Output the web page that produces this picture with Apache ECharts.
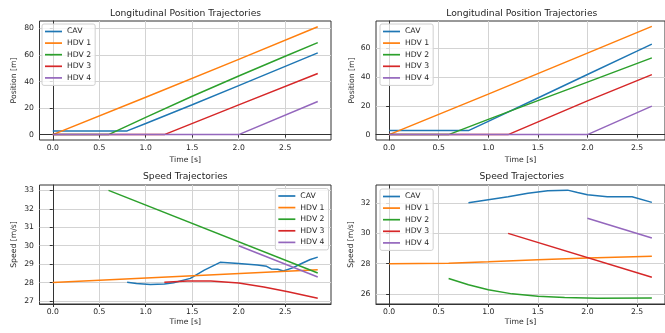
<!DOCTYPE html>
<html>
<head>
<meta charset="utf-8">
<script src="https://cdn.jsdelivr.net/npm/echarts@6/dist/echarts.min.js"></script>
<style>
  html, body { margin: 0; padding: 0; background: #fff; }
  #chart { width: 665px; height: 333px; }
</style>
</head>
<body>
<div id="chart"></div>
<script>
// 车辆名称和颜色
const names = ['CAV', 'HDV 1', 'HDV 2', 'HDV 3', 'HDV 4']
const colors = ['#1f77b4', '#ff7f0e', '#2ca02c', '#d62728', '#9467bd']

// 刻度
const timeTicks = [0, 0.5, 1, 1.5, 2, 2.5]
const posTicksLeft = [0, 20, 40, 60, 80]
const posTicksRight = [0, 20, 40, 60]
const speedTicksLeft = [27, 28, 29, 30, 31, 32, 33]
const speedTicksRight = [26, 28, 30, 32]

// 左上: 位置 [t, m]
const posLeftCAV = [[0, 2.8], [0.8, 2.8], [1.0, 8.4], [1.5, 22.5], [2.0, 36.9], [2.5, 51.4], [2.85, 61.6]]
const posLeftHDV1 = [[0, 0], [1.0, 28.2], [2.0, 56.7], [2.85, 81.3]]
const posLeftHDV2 = [[0, 0], [0.6, 0], [1.0, 13.0], [1.5, 28.9], [2.0, 44.2], [2.5, 59.0], [2.85, 69.3]]
const posLeftHDV3 = [[0, 0], [1.2, 0], [2.0, 22.4], [2.85, 46.0]]
const posLeftHDV4 = [[0, 0], [2.0, 0], [2.85, 25.0]]

// 右上: 位置 [t, m]
const posRightCAV = [[0, 2.8], [0.8, 2.8], [1.0, 9.2], [1.5, 25.4], [2.0, 41.8], [2.5, 58.0], [2.65, 62.9]]
const posRightHDV1 = [[0, 0], [1.0, 28.1], [2.0, 56.6], [2.65, 75.2]]
const posRightHDV2 = [[0, 0], [0.6, 0], [1.0, 10.6], [1.5, 23.6], [2.0, 36.5], [2.65, 53.3]]
const posRightHDV3 = [[0, 0], [1.2, 0], [2.0, 23.4], [2.65, 41.7]]
const posRightHDV4 = [[0, 0], [2.0, 0], [2.65, 19.8]]

// 左下: 速度 [t, m/s]
const spdLeftCAV = [[0.8, 28.02], [0.9, 27.95], [1.05, 27.9], [1.2, 27.93], [1.3, 27.99], [1.48, 28.23],
  [1.63, 28.68], [1.8, 29.1], [2.0, 29.03], [2.2, 28.95], [2.3, 28.88], [2.35, 28.74], [2.42, 28.72],
  [2.48, 28.63], [2.58, 28.8], [2.67, 29.02], [2.77, 29.25], [2.85, 29.38]]
const spdLeftHDV1 = [[0, 28.0], [2.85, 28.7]]
const spdLeftHDV2 = [[0.6, 33.0], [2.85, 28.52]]
const spdLeftHDV3 = [[1.2, 28.02], [1.45, 28.09], [1.7, 28.09], [2.0, 27.98], [2.27, 27.76], [2.53, 27.5], [2.85, 27.15]]
const spdLeftHDV4 = [[2.0, 30.0], [2.85, 28.3]]

// 右下: 速度 [t, m/s]
const spdRightCAV = [[0.8, 32.02], [1.0, 32.22], [1.2, 32.42], [1.4, 32.66], [1.6, 32.82], [1.8, 32.86],
  [1.9, 32.7], [2.0, 32.55], [2.2, 32.43], [2.45, 32.42], [2.65, 32.05]]
const spdRightHDV1 = [[0, 28.0], [0.6, 28.03], [1.0, 28.13], [1.5, 28.26], [2.0, 28.38], [2.65, 28.48]]
const spdRightHDV2 = [[0.6, 27.02], [0.8, 26.6], [1.0, 26.27], [1.24, 26.0], [1.5, 25.84], [1.77, 25.76], [2.1, 25.71], [2.65, 25.73]]
const spdRightHDV3 = [[1.2, 30.0], [2.65, 27.1]]
const spdRightHDV4 = [[2.0, 31.0], [2.65, 29.7]]

const font = 'DejaVu Sans'
const textColor = '#262626'

const panels = [
  {
    title: 'Longitudinal Position Trajectories', yName: 'Position [m]', titleX: 185.5, titleY: 9.5,
    grid: { left: 39.5, top: 21, width: 291.5, height: 119 },
    x: [-0.1425, 2.9925], y: [-4.05, 85.6], yTicks: posTicksLeft, xNameGap: 16.5, yNameGap: 21,
    legend: { left: 42, top: 24 },
    lines: [posLeftCAV, posLeftHDV1, posLeftHDV2, posLeftHDV3, posLeftHDV4],
  },
  {
    title: 'Longitudinal Position Trajectories', yName: 'Position [m]', titleX: 521.8, titleY: 9.5,
    grid: { left: 376, top: 21, width: 291.5, height: 119 },
    x: [-0.1325, 2.7825], y: [-3.76, 78.96], yTicks: posTicksRight, xNameGap: 16.5, yNameGap: 20,
    legend: { left: 380, top: 24 },
    lines: [posRightCAV, posRightHDV1, posRightHDV2, posRightHDV3, posRightHDV4],
  },
  {
    title: 'Speed Trajectories', yName: 'Speed [m/s]', titleX: 185.3, titleY: 172.5,
    grid: { left: 39.5, top: 185, width: 291.5, height: 119 },
    x: [-0.1425, 2.9925], y: [26.84, 33.29], yTicks: speedTicksLeft, xNameGap: 14.5, yNameGap: 21,
    legend: { right: 336.5, top: 188.5 },
    lines: [spdLeftCAV, spdLeftHDV1, spdLeftHDV2, spdLeftHDV3, spdLeftHDV4],
  },
  {
    title: 'Speed Trajectories', yName: 'Speed [m/s]', titleX: 521.8, titleY: 172.5,
    grid: { left: 376, top: 185, width: 291.5, height: 119 },
    x: [-0.1325, 2.7825], y: [25.33, 33.2], yTicks: speedTicksRight, xNameGap: 14.5, yNameGap: 20.5,
    legend: { left: 380, top: 189 },
    lines: [spdRightCAV, spdRightHDV1, spdRightHDV2, spdRightHDV3, spdRightHDV4],
  },
]

const axisCommon = (ticks, fmt, margin) => ({
  type: 'value',
  axisLine: { show: true, lineStyle: { color: '#333', width: 1 } },
  axisTick: { show: true, inside: false, length: 3, customValues: ticks, lineStyle: { color: '#333', width: 1 } },
  axisLabel: { customValues: ticks, formatter: fmt, color: textColor, fontSize: 7.7, fontFamily: font, margin: margin },
  splitLine: { show: true, lineStyle: { color: '#d3d3d3', width: 1 } },
  nameLocation: 'middle',
  nameTextStyle: { color: textColor, fontSize: 7.7, fontFamily: font },
})

const option = {
  animation: false,
  backgroundColor: '#fff',
  textStyle: { fontFamily: font },
  title: [],
  grid: [],
  xAxis: [],
  yAxis: [],
  legend: [],
  series: [],
}

panels.forEach((p, i) => {
  option.title.push({
    text: p.title,
    left: p.titleX,
    top: p.titleY,
    textAlign: 'center',
    padding: 0,
    textStyle: { fontSize: 9.2, fontWeight: 'normal', color: textColor, fontFamily: font },
  })
  option.grid.push(Object.assign({ show: true, borderColor: '#333', borderWidth: 1, containLabel: false }, p.grid))
  option.xAxis.push(Object.assign(axisCommon(timeTicks, v => v.toFixed(1), 4), {
    gridIndex: i, min: p.x[0], max: p.x[1], name: 'Time [s]', nameGap: p.xNameGap,
  }))
  option.yAxis.push(Object.assign(axisCommon(p.yTicks, v => String(v), 5.5), {
    gridIndex: i, min: p.y[0], max: p.y[1], name: p.yName, nameGap: p.yNameGap, nameRotate: 90,
  }))
  // 图例: 细线图标, 不带圆点
  option.legend.push(Object.assign({
    orient: 'vertical',
    data: names,
    icon: 'path://M0,0H20V2H0Z',
    symbolKeepAspect: true,
    itemWidth: 17,
    itemHeight: 9,
    itemGap: 2.6,
    padding: [3, 4, 3, 3],
    backgroundColor: 'rgba(255,255,255,0.8)',
    borderColor: '#d0d0d0',
    borderWidth: 1,
    borderRadius: 2,
    selectedMode: false,
    textStyle: { fontSize: 7.7, lineHeight: 9, color: textColor, fontFamily: font },
  }, p.legend))
  p.lines.forEach((d, k) => {
    option.series.push({
      type: 'line',
      name: names[k],
      xAxisIndex: i,
      yAxisIndex: i,
      data: d,
      symbol: 'none',
      color: colors[k],
      lineStyle: { width: 1.5, color: colors[k] },
      z: 3 + k,
    })
  })
})

const myChart = echarts.init(document.getElementById('chart'), null, { renderer: 'canvas' })
myChart.setOption(option)
</script>
</body>
</html>
